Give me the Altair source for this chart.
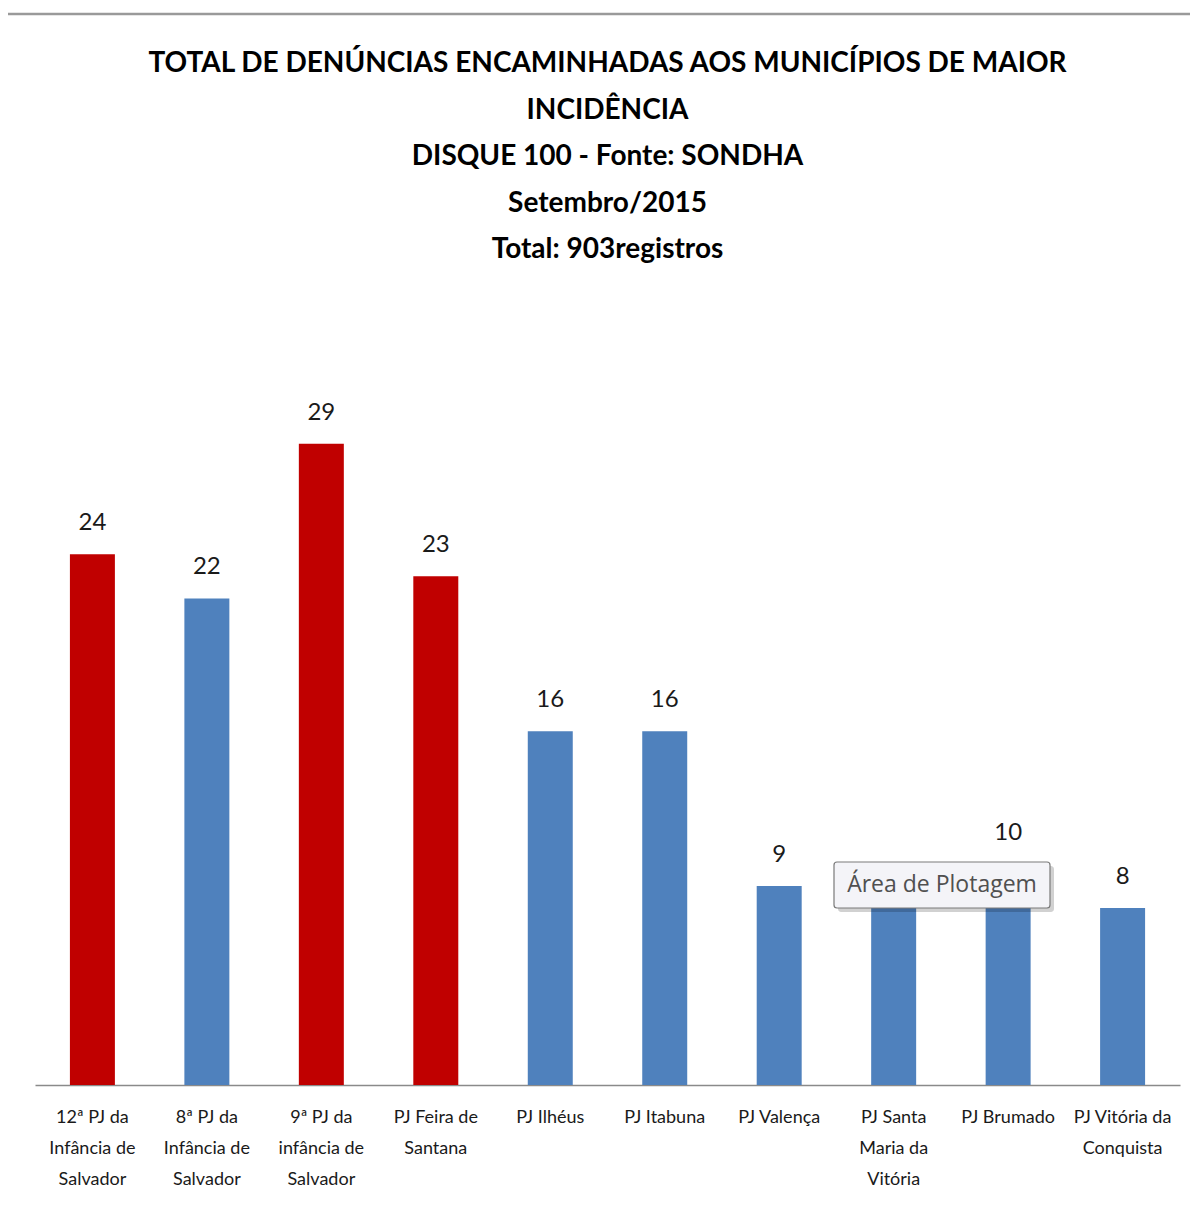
import altair as alt
import pandas as pd

categories = [
    "12ª PJ da|Infância de|Salvador",
    "8ª PJ da|Infância de|Salvador",
    "9ª PJ da|infância de|Salvador",
    "PJ Feira de|Santana",
    "PJ Ilhéus",
    "PJ Itabuna",
    "PJ Valença",
    "PJ Santa|Maria da|Vitória",
    "PJ Brumado",
    "PJ Vitória da|Conquista",
]
values = [24, 22, 29, 23, 16, 16, 9, 8, 10, 8]
groups = ["destaque", "normal", "destaque", "destaque", "normal",
          "normal", "normal", "normal", "normal", "normal"]

title_lines = [
    "TOTAL DE DENÚNCIAS ENCAMINHADAS AOS MUNICÍPIOS DE MAIOR",
    "INCIDÊNCIA",
    "DISQUE 100 - Fonte: SONDHA",
    "Setembro/2015",
    "Total: 903registros",
]

df = pd.DataFrame({"cat": categories, "val": values, "grp": groups})
one = pd.DataFrame({"k": [0]})

xenc = alt.X(
    "cat:N", sort=categories, title=None,
    scale=alt.Scale(paddingInner=0.607, paddingOuter=0.305),
    axis=alt.Axis(labelAngle=0, labelExpr="split(datum.value, '|')",
                  labelLineHeight=31, labelFontSize=18, labelFont="Lato",
                  labelColor="#1a1a1a", labelPadding=23, ticks=False,
                  domainColor="#8a8a8a", domainWidth=1.5, labelLimit=0),
)
yenc = alt.Y("val:Q", scale=alt.Scale(domain=[0, 35]), axis=None)

bars = alt.Chart(df).mark_bar().encode(
    x=xenc, y=yenc,
    color=alt.Color("grp:N", scale=alt.Scale(domain=["destaque", "normal"],
                                             range=["#C00000", "#4F81BD"]),
                    legend=None),
)
labels = alt.Chart(df).mark_text(
    baseline="bottom", dy=-19, fontSize=24, font="Lato", color="#1a1a1a"
).encode(x=alt.X("cat:N", sort=categories), y=yenc, text="val:Q")

shadow = alt.Chart(one).mark_rect(color="#000000", opacity=0.18, cornerRadius=3).encode(
    x=alt.value(803), x2=alt.value(1019), y=alt.value(555), y2=alt.value(601))
box = alt.Chart(one).mark_rect(fill="#f4f4f8", stroke="#7a7a7a", strokeWidth=1.2,
                               cornerRadius=3).encode(
    x=alt.value(799), x2=alt.value(1015), y=alt.value(551), y2=alt.value(597))
tip = alt.Chart(one).mark_text(text="Área de Plotagem", fontSize=23, font="Open Sans",
                               color="#505050").encode(
    x=alt.value(907), y=alt.value(574))

title = alt.Chart(one).mark_text(
    text=title_lines, fontSize=28, font="Lato", fontWeight="bold", color="#000000",
    lineHeight=46.5, baseline="alphabetic", align="center").encode(
    x=alt.value(572.5), y=alt.value(-239))

topline = alt.Chart(one).mark_rule(color="#9a9a9a", strokeWidth=2.5).encode(
    x=alt.value(-27), x2=alt.value(1160), y=alt.value(-297))

chart = alt.layer(bars, labels, shadow, box, tip, title, topline).properties(
    width=1145, height=774,
    padding={"left": 27, "top": 303, "right": 10, "bottom": 115},
    autosize=alt.AutoSizeParams(type="none"),
).configure(background="white").configure_view(stroke="transparent", strokeWidth=0)

chart.save("out.html", embed_options={"renderer": "svg", "actions": False})
